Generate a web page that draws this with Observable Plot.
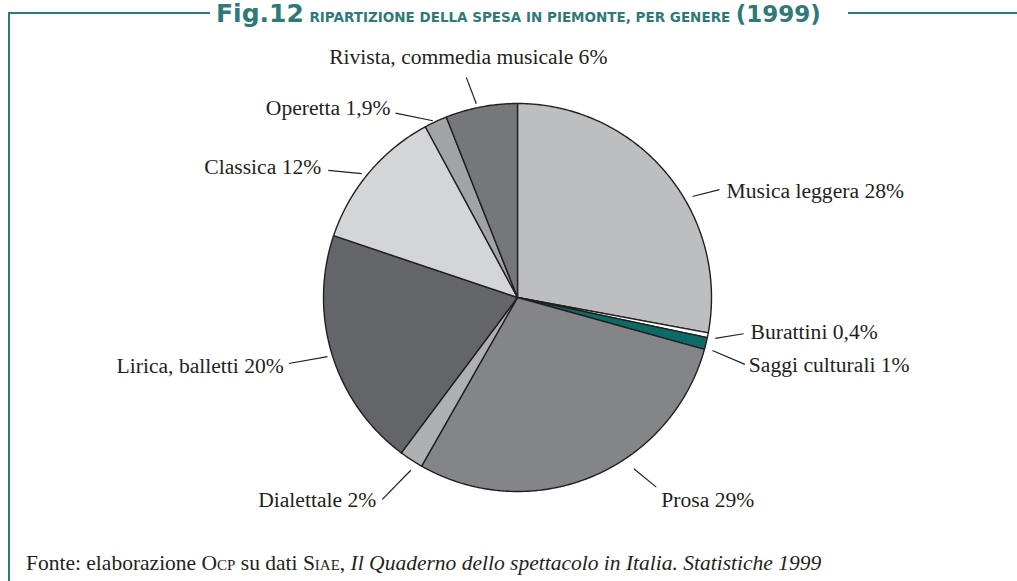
<!DOCTYPE html>
<html><head><meta charset="utf-8">
<script src="https://cdn.jsdelivr.net/npm/d3@7"></script>
<script src="https://cdn.jsdelivr.net/npm/@observablehq/plot@0.6"></script>
<style>
body{margin:0;background:#fff;}
#wrap{position:relative;width:1017px;height:581px;overflow:hidden;background:#fff;}
#title{position:absolute;left:216px;top:0;height:28px;line-height:28px;white-space:nowrap;color:#2f7a78;font-family:"DejaVu Sans",sans-serif;font-weight:bold;}
#title .fig{font-size:25px;}
#title .sc{font-size:13.5px;}
#title .yr{font-size:23px;}
#chart{position:absolute;left:0;top:30px;}
#caption{position:absolute;left:26px;top:550px;white-space:nowrap;font-family:"Liberation Serif",serif;font-size:21.5px;color:#231f20;line-height:26px;}
.smc{font-variant:small-caps;}
.rule{position:absolute;background:#2f7a78;}
</style></head><body>
<div id="wrap">
  <div id="title"><span class="fig">Fig.12</span> <span class="sc">RIPARTIZIONE DELLA SPESA IN PIEMONTE, PER GENERE</span> <span class="yr">(1999)</span></div>
  <div id="chart"></div>
  <div id="caption">Fonte: elaborazione O<span class="smc">cp</span> su dati S<span class="smc">iae</span>, <i>Il Quaderno dello spettacolo in Italia. Statistiche 1999</i></div>
  <div class="rule" style="left:8px;top:12px;width:2px;height:570px;"></div>
  <div class="rule" style="left:8px;top:12px;width:202px;height:2px;"></div>
  <div class="rule" style="left:848px;top:12px;width:169px;height:2px;"></div>
</div>
<script>
// ---- data ----
const categories = ["Musica leggera","Burattini","Saggi culturali","Prosa","Dialettale","Lirica, balletti","Classica","Operetta","Rivista, commedia musicale"];
const values = [28, 0.4, 1, 29, 2, 20, 12, 1.9, 6];
const valueLabels = ["28%","0,4%","1%","29%","2%","20%","12%","1,9%","6%"];
const colors = ["#bdbec0","#ffffff","#0d6b67","#848589","#afb0b3","#646568","#d4d5d7","#a2a3a6","#76777a"];

// ---- layout (label placement, polar: angle deg clockwise from top) ----
const W = 1017, H = 510, cx = 517, cy = 267, R = 194;
const leaderLayout = [
  {a1:60,    r1:202, a2:61.9,  r2:229, dx:7,  dy:1,   anchor:"start"},
  {a1:101.7, r1:202, a2:99.1,  r2:229, dx:7,  dy:-2,  anchor:"start"},
  {a1:105.2, r1:202, a2:106.4, r2:237, dx:4,  dy:1,   anchor:"start"},
  {a1:145.8, r1:207, a2:143.8, r2:235, dx:5,  dy:13,  anchor:"start"},
  {a1:211.7, r1:203, a2:213.8, r2:243, dx:-6, dy:1,   anchor:"end"},
  {a1:252.7, r1:199, a2:253.9, r2:238, dx:-5, dy:3,   anchor:"end"},
  {a1:308.5, r1:199, a2:303.9, r2:228, dx:-7, dy:-3,  anchor:"end"},
  {a1:334.4, r1:196, a2:326.5, r2:221, dx:-5, dy:-5,  anchor:"end"},
  {a1:348,   r1:198, a2:346.9, r2:226, dx:2,  dy:-20, anchor:"middle"}
];

const px = (a, r) => cx + r * Math.sin(a);
const py = (a, r) => cy - r * Math.cos(a);
const rad = d => d * Math.PI / 180;

const arcs = d3.pie().sort(null).value(d => d)(values);
const slicePts = [];
arcs.forEach((a, i) => {
  const cat = categories[i], color = colors[i];
  slicePts.push({cat, color, x: cx, y: cy});
  const n = Math.max(2, Math.ceil((a.endAngle - a.startAngle) / rad(0.5)));
  for (let k = 0; k <= n; k++) {
    const t = a.startAngle + (a.endAngle - a.startAngle) * k / n;
    slicePts.push({cat, color, x: px(t, R), y: py(t, R)});
  }
  slicePts.push({cat, color, x: cx, y: cy});
});

const leaders = categories.map((c, i) => {
  const L = leaderLayout[i];
  const x1 = px(rad(L.a1), L.r1), y1 = py(rad(L.a1), L.r1);
  const x2 = px(rad(L.a2), L.r2), y2 = py(rad(L.a2), L.r2);
  return {x1, y1, x2, y2, tx: x2 + L.dx, ty: y2 + L.dy, anchor: L.anchor, text: c + " " + valueLabels[i]};
});

const textOpts = anchor => ({
  x: "tx", y: "ty", text: "text", textAnchor: anchor,
  filter: d => d.anchor === anchor,
  fontFamily: "Liberation Serif", fontSize: 21.6, fill: "#231f20"
});

const chart = Plot.plot({
  width: W, height: H, margin: 0,
  x: {domain: [0, W], range: [0, W], axis: null},
  y: {domain: [0, H], range: [0, H], axis: null},
  color: {type: "identity"},
  style: {background: "transparent", overflow: "visible"},
  marks: [
    Plot.line(slicePts, {x: "x", y: "y", z: "cat", fill: "color", stroke: "#231f20", strokeWidth: 1.4, strokeLinejoin: "round"}),
    Plot.link(leaders, {x1: "x1", y1: "y1", x2: "x2", y2: "y2", stroke: "#231f20", strokeWidth: 1.2}),
    Plot.text(leaders, textOpts("start")),
    Plot.text(leaders, textOpts("end")),
    Plot.text(leaders, textOpts("middle"))
  ]
});
document.getElementById("chart").appendChild(chart);
</script>
</body></html>
